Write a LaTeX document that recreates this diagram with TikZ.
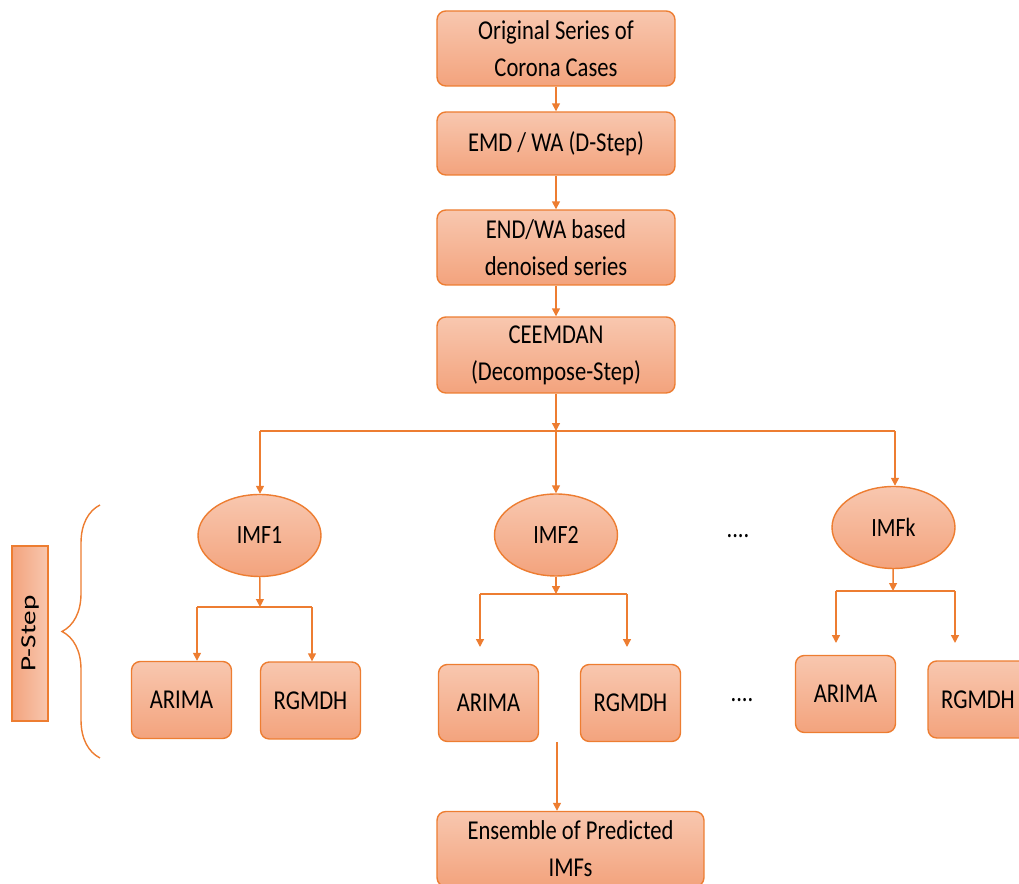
\documentclass[tikz,border=0pt]{standalone}
\usepackage{fontspec}
\setmainfont[FakeStretch=0.83]{Carlito}
\newfontfamily\sidefont[FakeStretch=1.35]{Carlito}
\usetikzlibrary{positioning,shapes.geometric,arrows.meta,decorations.pathreplacing}
\definecolor{edge}{HTML}{ED7D31}
\definecolor{filltop}{HTML}{F8C7AF}
\definecolor{fillbot}{HTML}{F3A37D}

\begin{document}
\begin{tikzpicture}[x=0.02cm,y=-0.02cm]
    \tikzstyle{every node}=[font=\fontsize{15.5}{21}\selectfont, text=black]
    \tikzstyle{block}=[draw=edge, line width=0.8pt, rounded corners=5pt, top color=filltop, bottom color=fillbot, align=center, inner sep=0pt, minimum width=4.76cm]
    \tikzstyle{small}=[block, minimum width=2cm, minimum height=1.54cm]
    \tikzstyle{imf}=[ellipse, draw=edge, line width=0.8pt, top color=filltop, bottom color=fillbot, minimum width=2.46cm, minimum height=1.64cm, inner sep=0pt, font=\fontsize{15}{17}\selectfont]
    \tikzstyle{arr}=[draw=edge, line width=0.8pt, -{Triangle[length=4.5pt,width=4.5pt]}]
    \tikzstyle{line}=[draw=edge, line width=0.8pt]

    \useasboundingbox (0,0) rectangle (1019,884);

    % main chain
    \node[block, minimum height=1.5cm]  (orig) at (556,48.5)  {Original Series of\\Corona Cases};
    \node[block, minimum height=1.26cm] (emd)  at (556,143.5) {EMD / WA (D-Step)};
    \node[block, minimum height=1.5cm]  (den)  at (556,247.5) {END/WA based\\denoised series};
    \node[block, minimum height=1.52cm] (ceem) at (556,355)   {CEEMDAN\\(Decompose-Step)};

    \node[imf] (imf1) at (259.5,535.5) {IMF1};
    \node[imf] (imf2) at (556,535)     {IMF2};
    \node[imf] (imfk) at (893.5,527.5) {IMFk};
    \node (dots1) at (738,536) {....};
    \node (dots2) at (742,700) {....};

    \node[small] (ar1) at (181.5,700) {ARIMA};
    \node[small] (rg1) at (310.5,700.5) {RGMDH};
    \node[small] (ar2) at (488.5,703) {ARIMA};
    \node[small] (rg2) at (630.5,703) {RGMDH};
    \node[small] (ar3) at (845.5,694) {ARIMA};
    \node[small] (rg3) at (978,699.5) {RGMDH};

    \node[block, minimum width=5.34cm, minimum height=1.5cm] (ens) at (570.5,849) {Ensemble of Predicted\\IMFs};

    \node[block, rounded corners=0pt, rotate=90, minimum width=3.5cm, minimum height=0.72cm,
          left color=fillbot, right color=filltop, font=\sidefont\fontsize{12.3}{14}\selectfont] (pstep) at (30,633.5) {P-Step};

    % brace
    \coordinate (bracebot) at (100,758);
    \coordinate (bracetop) at (100,505);
    \draw[line, decorate, decoration={brace, amplitude=0.76cm}] (bracebot) -- (bracetop);

    % connectors
    \draw[arr] (orig) -- (emd);
    \draw[arr] (emd) -- (den);
    \draw[arr] (den) -- (ceem);

    \coordinate (split)  at (556,431);
    \coordinate (splitl) at (260,431);
    \coordinate (splitr) at (895,431);
    \draw[arr] (ceem) -- (split);
    \draw[line] (splitl) -- (splitr);
    \draw[arr] (splitl) -- (splitl |- imf1.north);
    \draw[arr] (split) -- (imf2);
    \draw[arr] (splitr) -- (splitr |- imfk.north);

    \coordinate (fork1)  at (260,607);
    \coordinate (fork1l) at (197,607);
    \coordinate (fork1r) at (312,607);
    \draw[arr] (imf1) -- (fork1);
    \draw[line] (fork1l) -- (fork1r);
    \draw[arr] (fork1l) -- (fork1l |- ar1.north);
    \draw[arr] (fork1r) -- (fork1r |- rg1.north);

    \coordinate (fork2)  at (556,594);
    \coordinate (fork2l) at (480,594);
    \coordinate (fork2r) at (627,594);
    \coordinate (end2l)  at (480,647);
    \coordinate (end2r)  at (627,647);
    \draw[arr] (imf2) -- (fork2);
    \draw[line] (fork2l) -- (fork2r);
    \draw[arr] (fork2l) -- (end2l);
    \draw[arr] (fork2r) -- (end2r);

    \coordinate (forkk)  at (893,591);
    \coordinate (forkkl) at (836,591);
    \coordinate (forkkr) at (955,591);
    \coordinate (endkl)  at (836,643);
    \coordinate (endkr)  at (955,643);
    \draw[arr] (imfk) -- (forkk);
    \draw[line] (forkkl) -- (forkkr);
    \draw[arr] (forkkl) -- (endkl);
    \draw[arr] (forkkr) -- (endkr);

    \coordinate (ensin) at (557,742);
    \draw[arr] (ensin) -- (ensin |- ens.north);
\end{tikzpicture}
\end{document}
